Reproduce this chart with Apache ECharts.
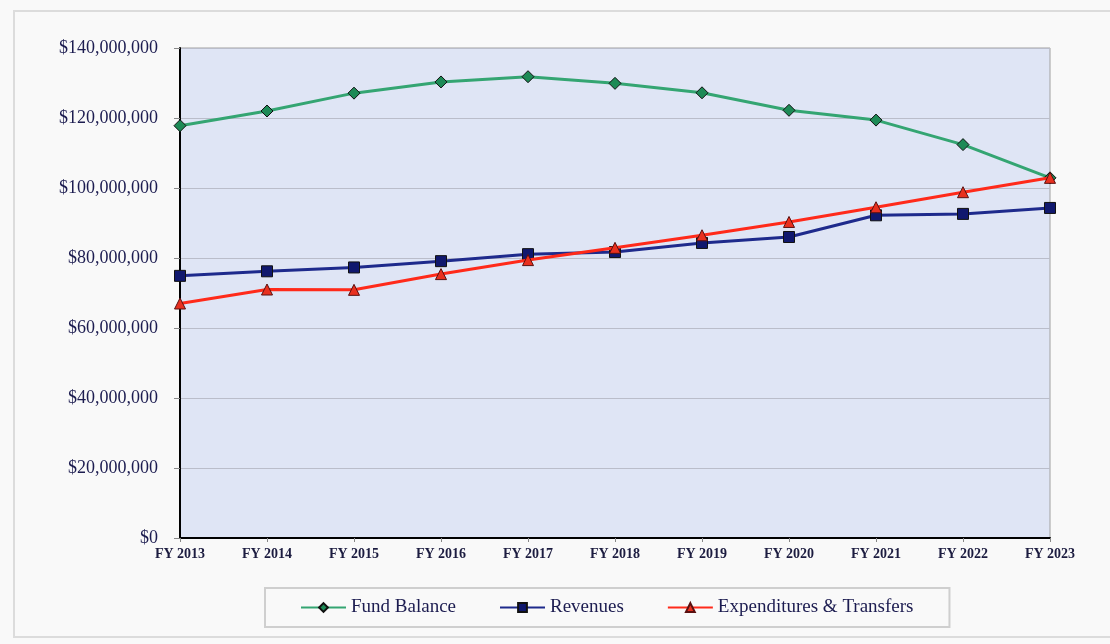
<!DOCTYPE html>
<html>
<head>
<meta charset="utf-8">
<script src="https://cdn.jsdelivr.net/npm/echarts@6/dist/echarts.min.js"></script>
<style>
  html, body { margin: 0; padding: 0; background: #f9f9f9; }
  #chart { width: 1110px; height: 644px; }
</style>
</head>
<body>
<div id="chart"></div>
<script>
// categories and values (dollars, in millions)
var years = ["FY 2013", "FY 2014", "FY 2015", "FY 2016", "FY 2017", "FY 2018", "FY 2019", "FY 2020", "FY 2021", "FY 2022", "FY 2023"];
var fundBalance = [117.8, 122.0, 127.1, 130.3, 131.8, 129.9, 127.2, 122.2, 119.4, 112.4, 102.9];
var revenues = [74.9, 76.2, 77.3, 79.1, 81.1, 81.7, 84.3, 86.0, 92.2, 92.6, 94.3];
var expenditures = [67.0, 71.0, 70.9, 75.4, 79.4, 82.9, 86.5, 90.3, 94.5, 98.8, 102.9];
var yTicks = [0, 20, 40, 60, 80, 100, 120, 140];

function toDollars(arr) {
  return arr.map(function (v) { return Math.round(v * 1000000); });
}

function money(v) {
  if (v === 0) return "$0";
  return "$" + String(v).replace(/\B(?=(\d{3})+(?!\d))/g, ",");
}

var serif = "Liberation Serif";
var chart = echarts.init(document.getElementById("chart"));

chart.setOption({
  animation: false,
  textStyle: { fontFamily: serif },
  graphic: [
    {
      type: "rect",
      z: -10,
      shape: { x: 14, y: 11, width: 1200, height: 626 },
      style: { fill: "#f9f9f9", stroke: "#dcdcdc", lineWidth: 2 }
    }
  ],
  grid: {
    left: 180,
    right: 60,
    top: 48,
    bottom: 106,
    show: true,
    backgroundColor: "#dfe5f5",
    borderColor: "#a0a0a0",
    borderWidth: 1
  },
  legend: {
    left: 265,
    top: 588,
    padding: [10, 36, 10, 35],
    itemGap: 43,
    itemWidth: 45,
    itemHeight: 11,
    backgroundColor: "#f9f9f9",
    borderColor: "#cfcfcf",
    borderWidth: 2,
    textStyle: { fontFamily: serif, fontSize: 19, color: "#1c1c50" },
    data: ["Fund Balance", "Revenues", "Expenditures & Transfers"]
  },
  xAxis: {
    type: "category",
    data: years,
    boundaryGap: false,
    axisLine: { lineStyle: { color: "#000", width: 2 } },
    axisTick: { show: true, length: 4, lineStyle: { color: "#888" } },
    axisLabel: {
      fontFamily: serif,
      fontSize: 14,
      fontWeight: "bold",
      color: "#1c1c40",
      margin: 9
    },
    splitLine: { show: false }
  },
  yAxis: {
    type: "value",
    min: 0,
    max: yTicks[yTicks.length - 1] * 1000000,
    interval: 20000000,
    axisLine: { show: true, lineStyle: { color: "#000", width: 2 } },
    axisTick: { show: true, length: 6, lineStyle: { color: "#888" } },
    axisLabel: {
      fontFamily: serif,
      fontSize: 18,
      color: "#1c1c50",
      margin: 22,
      formatter: money
    },
    splitLine: { show: true, lineStyle: { color: "#babdca", width: 1 } }
  },
  series: [
    {
      name: "Fund Balance",
      type: "line",
      data: toDollars(fundBalance),
      symbol: "diamond",
      symbolSize: 12,
      color: "#2a9a66",
      lineStyle: { color: "#34a572", width: 3 },
      itemStyle: { color: "#1d8a56", borderColor: "#111", borderWidth: 1 },
      z: 3
    },
    {
      name: "Revenues",
      type: "line",
      data: toDollars(revenues),
      symbol: "rect",
      symbolSize: 11,
      color: "#1a237e",
      lineStyle: { color: "#1e2a8c", width: 3 },
      itemStyle: { color: "#10186e", borderColor: "#111", borderWidth: 1 },
      z: 4
    },
    {
      name: "Expenditures & Transfers",
      type: "line",
      data: toDollars(expenditures),
      symbol: "triangle",
      symbolSize: 11,
      color: "#ff2a1a",
      lineStyle: { color: "#ff2a1a", width: 3 },
      itemStyle: { color: "#e8301f", borderColor: "#5a1010", borderWidth: 1 },
      z: 5
    }
  ]
});
</script>
</body>
</html>
